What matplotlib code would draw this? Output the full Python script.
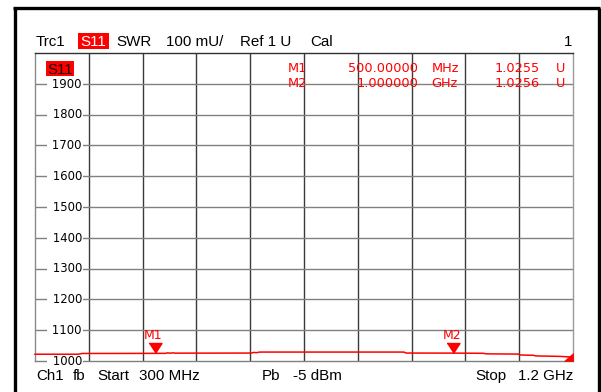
import matplotlib
matplotlib.use("Agg")
import matplotlib.pyplot as plt
from matplotlib.patches import Rectangle, Polygon
from matplotlib.lines import Line2D

# ---------------- data ----------------
freq_mhz = [300, 372, 376, 380, 440, 492, 518, 522, 526, 530, 535, 600, 662, 666, 670,
            676, 760, 850, 917, 921, 1000, 1050, 1055, 1108, 1112, 1134, 1138, 1178, 1196, 1200]
swr_mU = [1022.0, 1022.0, 1023.5, 1024.5, 1024.5, 1024.8, 1024.8, 1026.5, 1025.2, 1026.5, 1025.5,
          1025.6, 1025.8, 1028.0, 1027.0, 1029.0, 1029.0, 1029.0, 1029.0, 1025.8, 1025.6, 1025.0,
          1023.2, 1022.5, 1019.5, 1018.5, 1016.5, 1015.0, 1013.0, 1011.0]
marker_names = ["M1", "M2"]
marker_freq_mhz = [500, 1000]
marker_swr_mU = [1025.5, 1025.6]
marker_freq_text = ["500.00000", "1.000000"]
marker_freq_unit = ["MHz", "GHz"]
y_tick_values = [1000, 1100, 1200, 1300, 1400, 1500, 1600, 1700, 1800, 1900]
x_grid_values = [390, 480, 570, 660, 750, 840, 930, 1020, 1110]
x_range = (300, 1200)
y_range = (1000, 2000)

RED = "#ff0000"
W, H = 601, 392
SANS = ["Liberation Sans", "DejaVu Sans"]

def fx(x):
    return x / W

def fy(y):
    return 1 - y / H

fig = plt.figure(figsize=(W / 100, H / 100), dpi=100)
fig.patch.set_facecolor("white")

# outer thick frame
for (x0, y0, x1, y1) in [(14.5, 7.5, 14.5, 400), (13, 7.5, 600, 7.5), (599.3, 7.5, 599.3, 400)]:
    fig.add_artist(Line2D([fx(x0), fx(x1)], [fy(y0), fy(y1)], transform=fig.transFigure,
                          color="black", lw=2.4, solid_capstyle="butt"))

ax = fig.add_axes([fx(35), fy(361), 538 / W, 308 / H])
ax.set_xlim(*x_range)
ax.set_ylim(*y_range)
ax.set_xticks(x_grid_values)
ax.set_yticks(y_tick_values[1:])
ax.tick_params(length=0, labelbottom=False, labelleft=False)
ax.xaxis.grid(True, color="#3a3a3a", lw=1.0)
ax.yaxis.grid(True, color="#808080", lw=1.0)
ax.set_axisbelow(True)
for side, col in [("top", "#303030"), ("left", "#8a8a8a"), ("right", "#9a9a9a"), ("bottom", "#808080")]:
    ax.spines[side].set_color(col)
    ax.spines[side].set_linewidth(1.0)

# trace
ax.plot(freq_mhz, swr_mU, color=RED, lw=1.1, zorder=8, clip_on=False)

# markers
tri = [(-6.5, 10), (6.5, 10), (0, 0)]
for name, f, v in zip(marker_names, marker_freq_mhz, marker_swr_mU):
    ax.plot([f], [v], marker=tri, ms=14.4, color=RED, ls="none", zorder=9)
    ax.annotate(name, xy=(f, v), xytext=(-11, 14), textcoords="offset pixels",
                color=RED, fontsize=9, family=["DejaVu Sans"], ha="left", va="baseline",
                zorder=9)

# stop-end indicator
ax.add_patch(Polygon([(1 - 9 / 538, 0), (1, 0), (1, 8 / 308)], closed=True,
                     transform=ax.transAxes, facecolor=RED, edgecolor=RED, lw=0.5,
                     zorder=9, clip_on=False))

# y tick labels inside the first column
ytr = ax.get_yaxis_transform()
for v in y_tick_values:
    ax.annotate(" " + str(v), xy=(47 / 538, v), xycoords=ytr, xytext=(0, -3.8),
                textcoords="offset pixels", ha="right", va="baseline", fontsize=8.4,
                family=["DejaVu Sans"], color="black", zorder=7, annotation_clip=False,
                bbox=dict(boxstyle="square,pad=0.12", fc="white", ec="none"))

# inner S11 label
fig.add_artist(Rectangle((fx(46), fy(76)), 28 / W, 15 / H, transform=fig.transFigure,
                         facecolor=RED, edgecolor="none", zorder=8))
fig.text(fx(60), fy(73.5), "S11", ha="center", va="baseline", fontsize=10.8,
         family=SANS, color="#1a0000", zorder=9)

# marker table
rows_y = [71.7, 86.6]
mfs = 9.3
for i, name in enumerate(marker_names):
    yb = fy(rows_y[i])
    fig.text(fx(287.5), yb, name, color=RED, fontsize=mfs, family=["DejaVu Sans"], va="baseline", zorder=9)
    fig.text(fx(418), yb, marker_freq_text[i], color=RED, fontsize=mfs, family=["DejaVu Sans"],
             ha="right", va="baseline", zorder=9)
    fig.text(fx(431.5), yb, marker_freq_unit[i], color=RED, fontsize=mfs, family=["DejaVu Sans"],
             va="baseline", zorder=9)
    fig.text(fx(539.5), yb, "%.4f" % (marker_swr_mU[i] / 1000), color=RED, fontsize=mfs,
             family=["DejaVu Sans"], ha="right", va="baseline", zorder=9)
    fig.text(fx(555.5), yb, "U", color=RED, fontsize=mfs, family=["DejaVu Sans"], va="baseline", zorder=9)

# header
hb = fy(45.7)
hfs = 10.9
for x, s in [(36, "Trc1"), (116, "SWR"), (166, "100 mU/"), (240, "Ref 1 U"), (310, "Cal")]:
    fig.text(fx(x), hb, s, fontsize=hfs, family=SANS, va="baseline", color="black")
fig.text(fx(572.5), hb, "1", fontsize=hfs, family=SANS, va="baseline", ha="right", color="black")
fig.add_artist(Rectangle((fx(78), fy(48.5)), 30.5 / W, 15.5 / H, transform=fig.transFigure,
                         facecolor=RED, edgecolor="none"))
fig.text(fx(93.2), hb, "S11", fontsize=hfs, family=SANS, va="baseline", ha="center", color="white")

# footer
fb = fy(380)
for x, s in [(36, "Ch1"), (73, "fb"), (97, "Start"), (139, "300 MHz"), (262, "Pb"), (293, "-5 dBm"),
             (475, "Stop")]:
    fig.text(fx(x), fb, s, fontsize=hfs, family=SANS, va="baseline", color="black")
fig.text(fx(573), fb, "1.2 GHz", fontsize=hfs, family=SANS, va="baseline", ha="right", color="black")

fig.savefig("out.png", dpi=100, facecolor="white")
